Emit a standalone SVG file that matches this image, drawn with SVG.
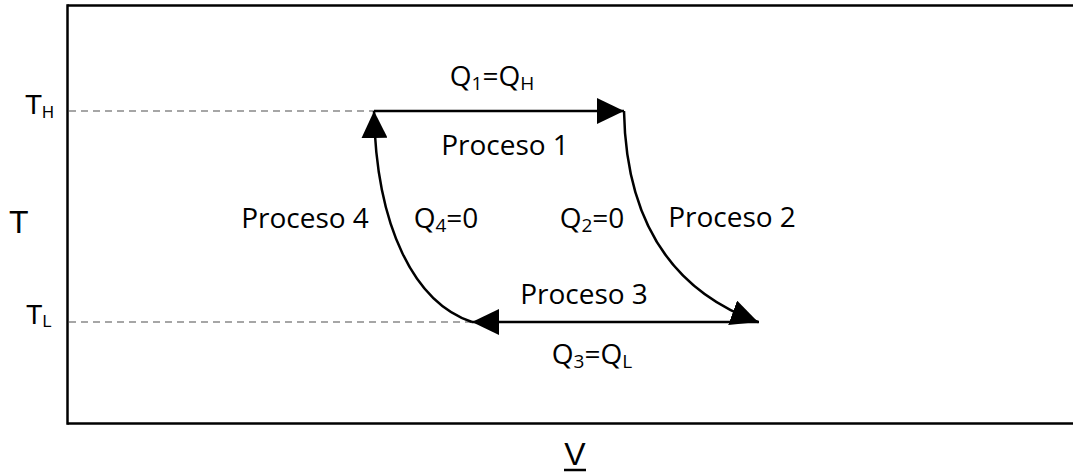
<svg xmlns="http://www.w3.org/2000/svg" width="1073" height="472" viewBox="0 0 1073 472">
  <style>
    .axis { stroke: #000; stroke-width: 2.5; fill: none; }
    .guide { stroke: #a6a6a6; stroke-width: 1.8; stroke-dasharray: 7 5; fill: none; }
    .proc { stroke: #000; stroke-width: 2.5; fill: none; }
    .lbl { font-family: "Open Sans", "Liberation Sans", sans-serif; font-size: 28px; fill: #000; }
    .ax { font-family: "Liberation Sans", Arial, sans-serif; fill: #000; }
  </style>
  <defs>
    <marker id="arrow" markerUnits="userSpaceOnUse" markerWidth="27" markerHeight="26" refX="27" refY="13" orient="auto" viewBox="0 0 27 26">
      <path d="M0,0 L27,13 L0,26 Z" fill="#000"/>
    </marker>
  </defs>

  <g id="frame">
    <line class="axis" x1="67.5" y1="5.5" x2="1073" y2="5.5"/>
    <line class="axis" x1="67.5" y1="4.3" x2="67.5" y2="424.7"/>
    <line class="axis" x1="67.5" y1="423.5" x2="1073" y2="423.5"/>
  </g>

  <g id="guides">
    <line class="guide" x1="69" y1="111" x2="374" y2="111"/>
    <line class="guide" x1="69" y1="322" x2="472" y2="322"/>
  </g>

  <g id="axis-labels">
    <text class="ax" x="25" y="114" font-size="28">T<tspan font-size="16.5" dy="4">H</tspan></text>
    <text class="ax" x="9" y="233" font-size="32">T</text>
    <text class="ax" x="26" y="324" font-size="27">T<tspan font-size="16.5" dy="3">L</tspan></text>
    <text class="ax" x="575" y="465" font-size="32" text-anchor="middle">V</text>
    <line x1="564" y1="470" x2="586" y2="470" stroke="#000" stroke-width="2.5"/>
  </g>

  <g id="connectors">
    <path id="proceso1" class="proc" d="M374,111 L624,111" marker-end="url(#arrow)"/>
    <path id="proceso2" class="proc" d="M624,111 C626,220 670,290 758,322" marker-end="url(#arrow)"/>
    <path id="proceso3" class="proc" d="M759,322 L472,322" marker-end="url(#arrow)"/>
    <path id="proceso4" class="proc" d="M472,322 C415,303 376,228 374,111" marker-end="url(#arrow)"/>
  </g>

  <g id="labels">
    <text class="lbl" x="492" y="86" text-anchor="middle">Q<tspan font-size="19" dy="4">1</tspan><tspan dy="-4">=Q</tspan><tspan font-size="19" dy="4">H</tspan></text>
    <text class="lbl" x="505" y="155" text-anchor="middle">Proceso 1</text>
    <text class="lbl" x="305" y="228" text-anchor="middle">Proceso 4</text>
    <text class="lbl" x="446" y="228" text-anchor="middle">Q<tspan font-size="19" dy="4">4</tspan><tspan dy="-4">=0</tspan></text>
    <text class="lbl" x="592" y="228" text-anchor="middle">Q<tspan font-size="19" dy="4">2</tspan><tspan dy="-4">=0</tspan></text>
    <text class="lbl" x="732" y="227" text-anchor="middle">Proceso 2</text>
    <text class="lbl" x="584" y="304" text-anchor="middle">Proceso 3</text>
    <text class="lbl" x="592" y="364" text-anchor="middle">Q<tspan font-size="19" dy="4">3</tspan><tspan dy="-4">=Q</tspan><tspan font-size="19" dy="4">L</tspan></text>
  </g>
</svg>
